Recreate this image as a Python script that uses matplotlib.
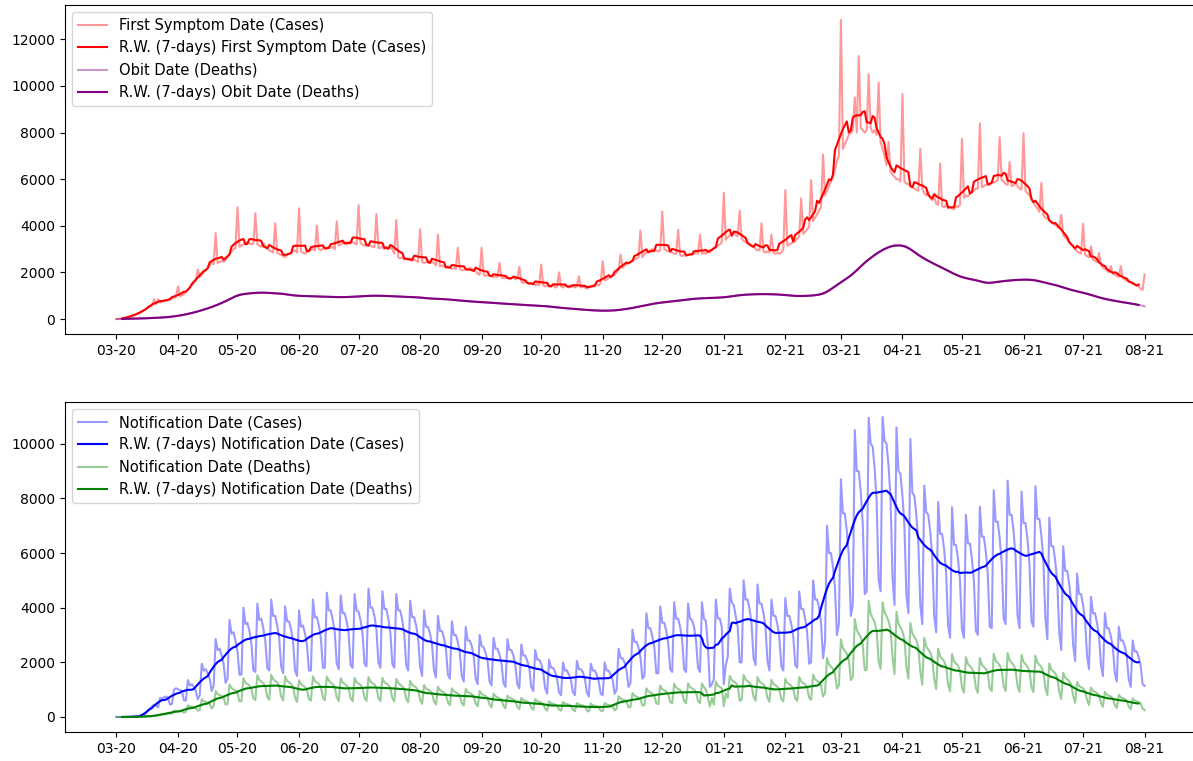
import matplotlib
matplotlib.use("Agg")
import matplotlib.pyplot as plt
import matplotlib.dates as mdates
import pandas as pd

plt.rcParams["font.size"] = 10.5

start_date = "2020-03-01"

# daily values, one week (Sun..Sat) per line
first_symptom_cases = [
    0, 5, 10, 20, 40, 60, 80,
    110, 140, 170, 200, 240, 280, 320,
    380, 440, 500, 540, 580, 850, 640,
    850, 700, 760, 790, 820, 800, 830,
    880, 920, 950, 1400, 980, 1020, 1060,
    1150, 1250, 1350, 1450, 1550, 1650, 2130,
    1800, 1900, 2000, 2100, 2200, 2300, 2400,
    2350, 3690, 2400, 2450, 2500, 2450, 2550,
    2650, 2800, 2900, 3000, 3050, 4800, 3100,
    3150, 3200, 3250, 3300, 3250, 3200, 3250,
    4540, 3200, 3150, 3100, 3250, 3150, 3050,
    2950, 2900, 2850, 4110, 2850, 2800, 2750,
    2700, 2650, 2750, 2800, 2850, 2900, 2950,
    2850, 4750, 2900, 2850, 2800, 2900, 2950,
    2950, 3000, 2950, 4010, 3000, 2950, 3050,
    3050, 3000, 3100, 3050, 3100, 3000, 4190,
    3150, 3200, 3250, 3300, 3200, 3250, 3350,
    3300, 3250, 3200, 4890, 3250, 3200, 3150,
    3200, 3150, 3150, 3100, 3100, 4500, 3050,
    3050, 3100, 3000, 3100, 3050, 3050, 3000,
    2800, 4250, 2650, 2600, 2650, 2550, 2600,
    2550, 2600, 2500, 2550, 2500, 2450, 3860,
    2450, 2400, 2450, 2500, 2400, 2450, 2400,
    2300, 3620, 2250, 2300, 2250, 2200, 2250,
    2200, 2150, 2200, 2150, 3060, 2150, 2100,
    2100, 2150, 2100, 2200, 2150, 2100, 2050,
    1950, 1900, 3060, 1900, 1850, 1900, 1850,
    1850, 1800, 1850, 1800, 2410, 1800, 1750,
    1750, 1800, 1700, 1750, 1800, 1700, 1750,
    2240, 1600, 1550, 1600, 1550, 1500, 1550,
    1500, 1450, 1500, 1450, 2340, 1450, 1400,
    1450, 1400, 1400, 1450, 1350, 1400, 2000,
    1400, 1350, 1450, 1400, 1350, 1450, 1400,
    1350, 1400, 1840, 1350, 1400, 1350, 1300,
    1350, 1400, 1450, 1400, 1500, 1450, 1550,
    2480, 1650, 1700, 1750, 1800, 1850, 1900,
    2000, 2100, 2770, 2200, 2300, 2350, 2400,
    2450, 2500, 2550, 2600, 2650, 3800, 2650,
    2800, 2850, 2900, 2950, 3000, 2900, 2950,
    2900, 2950, 4610, 3000, 2950, 2900, 2950,
    2850, 2800, 2800, 3830, 2750, 2700, 2750,
    2700, 2750, 2800, 2750, 2800, 2850, 2800,
    3620, 2800, 2850, 2800, 2900, 2850, 2950,
    3050, 3100, 3150, 3200, 3300, 5420, 3400,
    3500, 3600, 3650, 3700, 3600, 3550, 4650,
    3450, 3350, 3300, 3250, 3200, 3150, 3150,
    3000, 2950, 2950, 4110, 2900, 2850, 2900,
    2850, 3620, 2850, 2800, 2850, 2800, 2850,
    3000, 5530, 3150, 3200, 3250, 3300, 3350,
    3450, 3550, 5180, 3650, 3750, 3850, 3950,
    5960, 4200, 4350, 4500, 4650, 4800, 7060,
    5300, 5500, 5700, 5900, 6100, 6400, 6800,
    7000, 12830, 7300, 7500, 7700, 7900, 8000,
    8100, 9500, 8000, 11280, 8200, 8100, 8000,
    8100, 10500, 8200, 8000, 8100, 7900, 10140,
    7600, 7300, 7000, 6600, 7600, 6300, 6200,
    6100, 6000, 6000, 5900, 9650, 5900, 5800,
    5800, 5700, 5650, 5600, 5550, 5500, 7300,
    5600, 5400, 5300, 5450, 5200, 5100, 5250,
    4950, 4900, 6670, 4850, 4800, 4900, 4750,
    4800, 4750, 4700, 4850, 4800, 4900, 7730,
    5200, 5300, 5250, 5400, 5450, 5500, 5600,
    5600, 8400, 5650, 5700, 5750, 5800, 5750,
    5900, 5850, 5900, 5950, 7800, 5950, 5900,
    5800, 5750, 6740, 5700, 5750, 5800, 5700,
    5600, 5550, 7970, 5500, 5400, 5300, 5200,
    5000, 4850, 4750, 4600, 5840, 4450, 4350,
    4300, 4250, 4150, 4100, 4050, 3950, 3900,
    4470, 3600, 3500, 3400, 3300, 3200, 3150,
    3000, 2900, 2850, 2800, 4090, 2750, 2700,
    2650, 3120, 2550, 2500, 2450, 2840, 2350,
    2200, 2150, 2100, 2000, 2270, 1950, 1900,
    1850, 1800, 2270, 1750, 1700, 1650, 1600,
    1600, 1550, 1500, 1450, 1400, 1300, 1250,
    1910,
]

obit_deaths = [
    0, 1, 2, 4, 6, 10, 12,
    14, 15, 18, 20, 22, 25, 28,
    30, 33, 36, 40, 44, 48, 52,
    56, 60, 65, 70, 76, 82, 88,
    100, 115, 130, 140, 150, 165, 180,
    200, 220, 240, 260, 280, 300, 320,
    350, 380, 410, 430, 455, 485, 510,
    545, 580, 615, 650, 690, 725, 760,
    800, 850, 890, 940, 985, 1020, 1050,
    1065, 1070, 1080, 1090, 1100, 1110, 1115,
    1125, 1130, 1135, 1130, 1140, 1130, 1125,
    1120, 1115, 1110, 1110, 1100, 1105, 1095,
    1080, 1070, 1050, 1040, 1030, 1015, 1005,
    1000, 995, 990, 990, 985, 985, 980,
    980, 975, 970, 970, 965, 960, 960,
    955, 955, 950, 950, 945, 945, 940,
    940, 935, 940, 940, 945, 945, 950,
    955, 960, 965, 970, 975, 980, 985,
    990, 995, 1000, 1000, 1005, 1000, 1000,
    1000, 995, 995, 990, 985, 985, 980,
    975, 970, 965, 960, 955, 950, 945,
    950, 945, 940, 940, 935, 930, 925,
    915, 905, 895, 890, 880, 875, 865,
    870, 865, 860, 860, 855, 850, 845,
    835, 825, 815, 810, 800, 795, 785,
    780, 775, 765, 760, 750, 745, 740,
    735, 730, 725, 720, 715, 710, 705,
    700, 695, 685, 680, 670, 665, 660,
    655, 650, 645, 640, 635, 630, 625,
    620, 615, 605, 600, 595, 590, 585,
    585, 580, 575, 570, 565, 560, 555,
    550, 540, 530, 520, 510, 500, 490,
    480, 475, 465, 460, 455, 445, 440,
    430, 425, 415, 410, 405, 395, 390,
    385, 380, 375, 370, 365, 360, 358,
    355, 355, 358, 360, 362, 365, 370,
    378, 388, 398, 410, 420, 432, 445,
    460, 475, 490, 510, 528, 545, 560,
    575, 595, 615, 630, 648, 665, 680,
    690, 700, 710, 720, 730, 740, 750,
    760, 770, 780, 790, 800, 810, 820,
    830, 840, 850, 860, 868, 875, 880,
    885, 890, 895, 900, 903, 905, 908,
    910, 912, 915, 920, 925, 932, 940,
    950, 962, 975, 990, 1002, 1015, 1025,
    1032, 1040, 1045, 1050, 1055, 1060, 1062,
    1065, 1068, 1070, 1070, 1072, 1070, 1068,
    1066, 1064, 1062, 1060, 1055, 1050, 1045,
    1038, 1030, 1020, 1010, 1002, 995, 990,
    988, 987, 988, 990, 992, 995, 998,
    1002, 1008, 1018, 1030, 1045, 1062, 1080,
    1110, 1160, 1220, 1280, 1340, 1400, 1460,
    1520, 1580, 1630, 1680, 1740, 1800, 1860,
    1930, 2010, 2090, 2180, 2260, 2340, 2420,
    2500, 2560, 2620, 2680, 2750, 2810, 2870,
    2920, 2970, 3010, 3050, 3090, 3120, 3140,
    3160, 3170, 3170, 3160, 3150, 3140, 3120,
    3060, 3000, 2940, 2870, 2810, 2750, 2690,
    2640, 2590, 2540, 2500, 2450, 2410, 2360,
    2320, 2280, 2240, 2200, 2160, 2110, 2070,
    2020, 1980, 1940, 1900, 1860, 1820, 1790,
    1770, 1750, 1735, 1720, 1705, 1690, 1675,
    1650, 1620, 1590, 1570, 1550, 1540, 1540,
    1550, 1570, 1585, 1600, 1610, 1620, 1630,
    1640, 1648, 1655, 1660, 1668, 1675, 1680,
    1685, 1690, 1692, 1690, 1692, 1690, 1688,
    1680, 1665, 1645, 1620, 1600, 1580, 1560,
    1540, 1520, 1500, 1480, 1460, 1440, 1420,
    1380, 1355, 1330, 1300, 1275, 1250, 1225,
    1210, 1190, 1170, 1150, 1130, 1110, 1090,
    1060, 1035, 1010, 980, 955, 930, 905,
    885, 865, 845, 830, 810, 795, 780,
    765, 750, 735, 720, 710, 695, 685,
    670, 655, 640, 620, 605, 590, 575,
    540,
]

notification_cases = [
    0, 0, 0, 0, 0, 0, 2,
    3, 8, 12, 18, 25, 30, 40,
    60, 150, 250, 320, 400, 450, 420,
    350, 700, 680, 720, 750, 700, 450,
    480, 1000, 1050, 1020, 980, 950, 620,
    600, 1350, 1150, 1200, 1100, 950, 650,
    800, 1950, 1700, 1750, 1600, 1400, 950,
    1150, 2850, 2450, 2500, 2250, 1950, 1250,
    1400, 3550, 3050, 3100, 2800, 2400, 1550,
    1550, 4000, 3400, 3450, 3150, 2700, 1700,
    1650, 4150, 3550, 3600, 3250, 2800, 1800,
    1700, 4300, 3700, 3700, 3350, 2900, 1850,
    1600, 4050, 3500, 3500, 3200, 2750, 1700,
    1500, 3900, 3300, 3350, 3050, 2650, 1700,
    1700, 4300, 3650, 3650, 3350, 2900, 1800,
    1800, 4550, 3900, 3900, 3550, 3100, 1950,
    1750, 4450, 3800, 3800, 3500, 3050, 1900,
    1800, 4500, 3900, 3850, 3550, 3050, 1950,
    1850, 4700, 4000, 4000, 3700, 3200, 2000,
    1800, 4600, 3950, 3950, 3600, 3100, 1950,
    1800, 4500, 3900, 3900, 3550, 3050, 1900,
    1700, 4250, 3650, 3650, 3350, 2900, 1850,
    1500, 3900, 3300, 3300, 3050, 2650, 1700,
    1450, 3700, 3150, 3150, 2900, 2500, 1550,
    1400, 3500, 3000, 3000, 2750, 2350, 1500,
    1300, 3300, 2800, 2800, 2600, 2250, 1400,
    1200, 3000, 2600, 2550, 2350, 2050, 1300,
    1150, 2900, 2500, 2500, 2300, 1950, 1250,
    1100, 2850, 2450, 2450, 2250, 1900, 1200,
    1050, 2650, 2250, 2250, 2050, 1800, 1100,
    950, 2450, 2100, 2100, 1950, 1650, 1050,
    850, 2100, 1800, 1800, 1650, 1400, 900,
    800, 2000, 1700, 1700, 1550, 1350, 900,
    800, 2050, 1750, 1750, 1650, 1400, 900,
    750, 1950, 1700, 1700, 1550, 1300, 850,
    800, 2000, 1700, 1700, 1550, 1350, 850,
    1000, 2500, 2150, 2150, 2000, 1700, 1100,
    1250, 3200, 2750, 2750, 2550, 2200, 1400,
    1500, 3800, 3250, 3250, 2950, 2550, 1600,
    1600, 4050, 3450, 3450, 3150, 2700, 1750,
    1650, 4200, 3600, 3600, 3300, 2850, 1750,
    1650, 4150, 3600, 3550, 3300, 2800, 1800,
    1650, 4200, 3600, 3500, 2600, 1100, 1200,
    1400, 4300, 3600, 3600, 3300, 1200, 1900,
    2200, 4700, 4200, 4100, 3700, 3300, 2000,
    2000, 5000, 4300, 4300, 3950, 3400, 2150,
    1900, 4850, 4150, 4150, 3800, 3300, 2050,
    1700, 4300, 3700, 3700, 3400, 2900, 1850,
    1700, 4350, 3700, 3700, 3400, 2950, 1900,
    1800, 4600, 3950, 3950, 3600, 3100, 1950,
    2000, 5000, 4300, 4300, 4000, 3450, 2150,
    2750, 7000, 6000, 6000, 5500, 4750, 3000,
    3400, 8700, 7450, 7450, 6800, 5900, 3700,
    4100, 10500, 9000, 9000, 8250, 7100, 4500,
    4600, 10950, 10000, 9900, 9100, 7900, 5000,
    4600, 10980, 10100, 10000, 9200, 8000, 5100,
    4100, 10600, 9000, 8900, 8100, 7000, 4450,
    3800, 10180, 8200, 8100, 7400, 6400, 4100,
    3400, 8470, 7500, 7400, 6800, 5900, 3700,
    3100, 7870, 6700, 6700, 6150, 5300, 3350,
    2900, 7680, 6300, 6300, 5800, 5000, 3200,
    2900, 7400, 6350, 6350, 5800, 5000, 3150,
    3000, 7700, 6600, 6600, 6050, 5250, 3300,
    3250, 8300, 7150, 7150, 6550, 5650, 3600,
    3400, 8650, 7400, 7400, 6800, 5850, 3700,
    3250, 8250, 7100, 7100, 6500, 5600, 3500,
    3300, 8450, 7250, 7250, 6650, 5750, 3650,
    2850, 7300, 6250, 6250, 5700, 4950, 3100,
    2450, 6250, 5350, 5350, 4900, 4200, 2650,
    2050, 5250, 4500, 4500, 4100, 3550, 2250,
    1750, 4400, 3800, 3800, 3450, 3000, 1900,
    1500, 3800, 3250, 3250, 2950, 2550, 1600,
    1300, 3300, 2800, 2800, 2600, 2250, 1400,
    1100, 2800, 2400, 2400, 2200, 1900, 1200,
    1140,
]

notification_deaths = [
    0, 0, 0, 0, 0, 0, 0,
    0, 1, 2, 4, 7, 10, 12,
    15, 20, 25, 30, 35, 40, 45,
    55, 90, 110, 120, 130, 140, 125,
    120, 230, 220, 230, 230, 210, 160,
    190, 430, 390, 380, 360, 330, 230,
    260, 650, 580, 550, 530, 480, 310,
    390, 950, 840, 800, 770, 700, 450,
    480, 1190, 1060, 1010, 970, 880, 570,
    580, 1420, 1260, 1210, 1150, 1050, 680,
    620, 1530, 1360, 1300, 1240, 1130, 730,
    630, 1550, 1380, 1320, 1270, 1150, 750,
    600, 1490, 1320, 1270, 1210, 1100, 710,
    550, 1350, 1200, 1150, 1100, 1000, 650,
    600, 1490, 1320, 1260, 1210, 1100, 720,
    610, 1480, 1330, 1260, 1200, 1100, 720,
    580, 1420, 1260, 1210, 1150, 1050, 680,
    580, 1430, 1270, 1220, 1170, 1060, 690,
    590, 1460, 1300, 1240, 1190, 1080, 700,
    580, 1430, 1270, 1220, 1170, 1060, 690,
    570, 1390, 1240, 1180, 1130, 1030, 670,
    540, 1320, 1180, 1130, 1080, 980, 630,
    480, 1170, 1040, 1000, 960, 870, 570,
    450, 1110, 980, 940, 900, 820, 540,
    430, 1050, 940, 900, 860, 780, 500,
    420, 1030, 910, 870, 840, 760, 490,
    390, 950, 840, 800, 770, 700, 450,
    350, 850, 760, 720, 690, 630, 410,
    320, 780, 700, 670, 640, 580, 370,
    290, 700, 620, 600, 570, 520, 340,
    260, 650, 580, 550, 530, 480, 310,
    230, 570, 500, 480, 460, 420, 280,
    230, 550, 490, 470, 450, 410, 270,
    210, 510, 460, 440, 420, 380, 240,
    200, 490, 430, 410, 400, 360, 230,
    210, 510, 460, 440, 420, 380, 240,
    310, 760, 670, 640, 620, 560, 360,
    360, 880, 780, 750, 710, 650, 420,
    430, 1050, 940, 900, 860, 780, 500,
    470, 1150, 1020, 980, 930, 850, 550,
    500, 1220, 1080, 1030, 990, 900, 580,
    500, 1230, 1090, 1050, 1000, 910, 590,
    500, 1230, 1090, 1000, 700, 380, 700,
    450, 1300, 1150, 1100, 1050, 400, 850,
    700, 1500, 1350, 1300, 1250, 1150, 590,
    630, 1540, 1370, 1310, 1250, 1140, 740,
    590, 1460, 1300, 1240, 1190, 1080, 700,
    560, 1360, 1210, 1160, 1110, 1010, 660,
    570, 1400, 1250, 1200, 1140, 1040, 680,
    590, 1460, 1300, 1240, 1190, 1080, 700,
    630, 1550, 1380, 1320, 1270, 1150, 750,
    880, 2160, 1920, 1840, 1760, 1600, 1040,
    1160, 2840, 2520, 2420, 2310, 2100, 1350,
    1460, 3580, 3180, 3050, 2920, 2650, 1710,
    1730, 4250, 3780, 3620, 3470, 3150, 2050,
    1760, 4200, 3840, 3680, 3520, 3200, 2200,
    1570, 3850, 3420, 3280, 3140, 2850, 1840,
    1400, 3440, 3060, 2930, 2810, 2550, 1660,
    1180, 2900, 2580, 2470, 2370, 2150, 1400,
    1020, 2500, 2220, 2130, 2040, 1850, 1190,
    940, 2300, 2040, 1960, 1870, 1700, 1090,
    890, 2190, 1940, 1860, 1780, 1620, 1060,
    880, 2160, 1920, 1840, 1760, 1600, 1040,
    950, 2320, 2060, 1980, 1890, 1720, 1120,
    950, 2340, 2080, 1990, 1900, 1730, 1120,
    920, 2270, 2020, 1930, 1850, 1680, 1090,
    910, 2240, 1990, 1910, 1830, 1660, 1080,
    800, 1960, 1740, 1670, 1600, 1450, 930,
    660, 1620, 1440, 1380, 1320, 1200, 780,
    520, 1280, 1140, 1090, 1050, 950, 620,
    440, 1080, 960, 920, 880, 800, 520,
    370, 920, 820, 780, 750, 680, 440,
    330, 810, 720, 690, 660, 600, 390,
    280, 680, 600, 580, 550, 500, 310,
    250,
]

top_series = [
    ("First Symptom Date (Cases)", first_symptom_cases, "red"),
    ("Obit Date (Deaths)", obit_deaths, "purple"),
]
bottom_series = [
    ("Notification Date (Cases)", notification_cases, "blue"),
    ("Notification Date (Deaths)", notification_deaths, "green"),
]


def plot_panel(ax, series):
    for label, values, color in series:
        s = pd.Series(values, index=pd.date_range(start_date, periods=len(values), freq="D"))
        ax.plot(s, color=color, alpha=0.4, label=label)
        ax.plot(s.rolling(7, center=True).mean(), color=color,
                label=f"R.W. (7-days) {label}")
    ax.xaxis.set_major_locator(mdates.MonthLocator())
    ax.xaxis.set_major_formatter(mdates.DateFormatter("%m-%y"))
    ax.tick_params(labelsize=10)
    ax.legend(loc="upper left")


fig = plt.figure(figsize=(11.93, 7.61), dpi=100)
ax1 = fig.add_axes([65 / 1193, 1 - 334 / 761, 1131 / 1193, 329 / 761])
ax2 = fig.add_axes([65 / 1193, 1 - 732 / 761, 1131 / 1193, 330 / 761])
plot_panel(ax1, top_series)
plot_panel(ax2, bottom_series)

fig.savefig("out.png", dpi=100)
